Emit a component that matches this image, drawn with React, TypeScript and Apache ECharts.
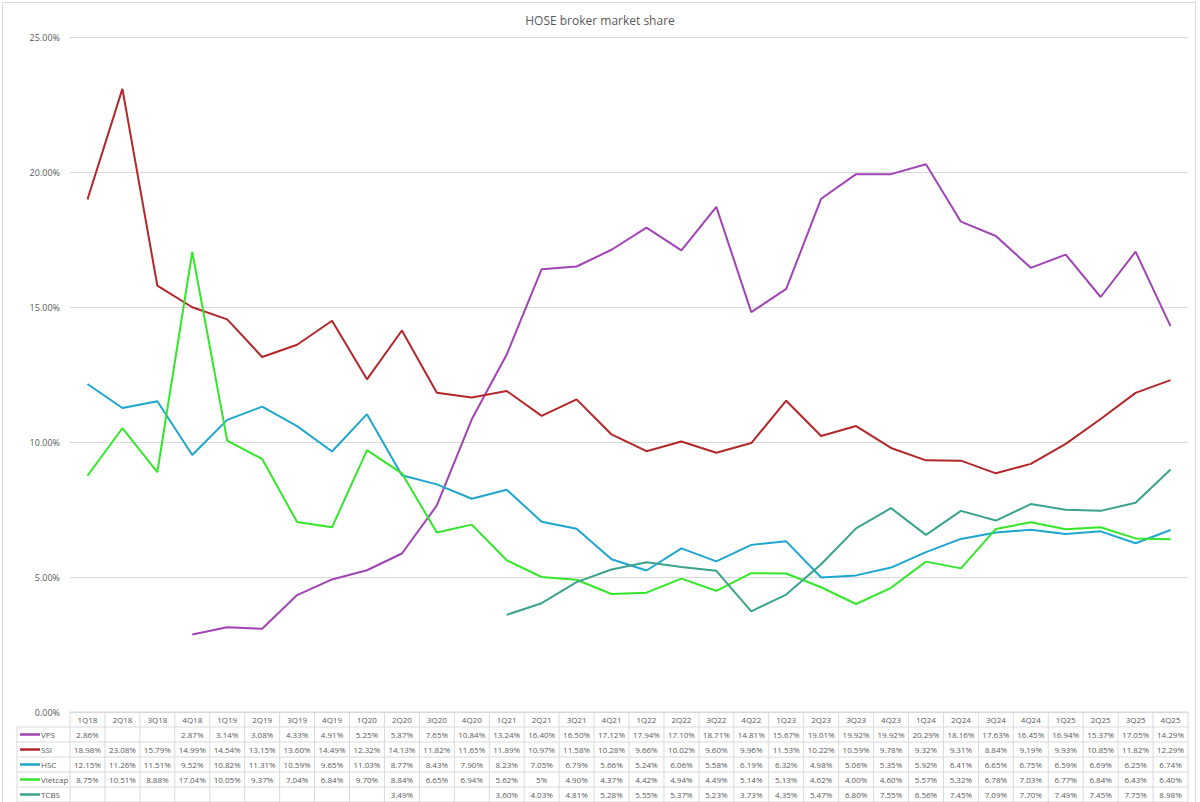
import React, { useEffect, useRef } from "react";
import * as echarts from "echarts";

const categories = ["1Q18","2Q18","3Q18","4Q18","1Q19","2Q19","3Q19","4Q19","1Q20","2Q20","3Q20","4Q20","1Q21","2Q21","3Q21","4Q21","1Q22","2Q22","3Q22","4Q22","1Q23","2Q23","3Q23","4Q23","1Q24","2Q24","3Q24","4Q24","1Q25","2Q25","3Q25","4Q25"];

// values in percent, kept as they are written in the table
const vps = ["2.86",null,null,"2.87","3.14","3.08","4.33","4.91","5.25","5.87","7.65","10.84","13.24","16.40","16.50","17.12","17.94","17.10","18.71","14.81","15.67","19.01","19.92","19.92","20.29","18.16","17.63","16.45","16.94","15.37","17.05","14.29"];
const ssi = ["18.98","23.08","15.79","14.99","14.54","13.15","13.60","14.49","12.32","14.13","11.82","11.65","11.89","10.97","11.58","10.28","9.66","10.02","9.60","9.96","11.53","10.22","10.59","9.78","9.32","9.31","8.84","9.19","9.93","10.85","11.82","12.29"];
const hsc = ["12.15","11.26","11.51","9.52","10.82","11.31","10.59","9.65","11.03","8.77","8.43","7.90","8.23","7.05","6.79","5.66","5.24","6.06","5.58","6.19","6.32","4.98","5.06","5.35","5.92","6.41","6.65","6.75","6.59","6.69","6.25","6.74"];
const vietcap = ["8.75","10.51","8.88","17.04","10.05","9.37","7.04","6.84","9.70","8.84","6.65","6.94","5.62","5","4.90","4.37","4.42","4.94","4.49","5.14","5.13","4.62","4.00","4.60","5.57","5.32","6.78","7.03","6.77","6.84","6.43","6.40"];
const tcbs = [null,null,null,null,null,null,null,null,null,"3.49",null,null,"3.60","4.03","4.81","5.28","5.55","5.37","5.23","3.73","4.35","5.47","6.80","7.55","6.56","7.45","7.09","7.70","7.49","7.45","7.75","8.98"];

const seriesNames = ["VPS","SSI","HSC","Vietcap","TCBS"];
const seriesData = [vps, ssi, hsc, vietcap, tcbs];
const colors = ["#a044b4","#b3262a","#1ea6cf","#33e62a","#3aa38c"];

const yTicks = { min: 0, max: 25, interval: 5 };

const W = 1200, H = 802;
const GL = 70, GR = 1188, GT = 37, GB = 712;
const FONT = "'Open Sans', 'Noto Sans', sans-serif";
const TXT = "#595959";
const BORDER = "#d9d9d9";

function fmt(v: string | null) {
  if (v === null || v === undefined) return "";
  return v + "%";
}

function buildTable() {
  const els: any[] = [];
  const n = categories.length;
  const cw = (GR - GL) / n;
  const rowH = 15;
  const top = GB;
  const rows = seriesNames.length + 1;
  const tableLeft = 17;
  for (let r = 0; r <= rows; r++) {
    const y = top + r * rowH;
    els.push({ type: "line", silent: true, shape: { x1: r === 0 ? GL : tableLeft, y1: y, x2: GR, y2: y }, style: { stroke: BORDER, lineWidth: 1 } });
  }
  els.push({ type: "line", silent: true, shape: { x1: tableLeft, y1: top + rowH, x2: tableLeft, y2: top + rows * rowH }, style: { stroke: BORDER, lineWidth: 1 } });
  for (let c = 0; c <= n; c++) {
    const x = GL + c * cw;
    els.push({ type: "line", silent: true, shape: { x1: x, y1: top, x2: x, y2: top + rows * rowH }, style: { stroke: BORDER, lineWidth: 1 } });
  }
  categories.forEach((cat, i) => {
    els.push({ type: "text", silent: true, x: GL + (i + 0.5) * cw, y: top + rowH / 2, style: { text: cat, font: `8px ${FONT}`, fill: TXT, align: "center", verticalAlign: "middle", textAlign: "center", textVerticalAlign: "middle" } });
  });
  seriesNames.forEach((name, r) => {
    const yc = top + (r + 1.5) * rowH;
    els.push({ type: "line", silent: true, shape: { x1: tableLeft + 3, y1: yc, x2: tableLeft + 23, y2: yc }, style: { stroke: colors[r], lineWidth: 2.5 } });
    els.push({ type: "text", silent: true, x: tableLeft + 24, y: yc, style: { text: name, font: `8px ${FONT}`, fill: TXT, align: "left", verticalAlign: "middle", textAlign: "left", textVerticalAlign: "middle" } });
    seriesData[r].forEach((v, i) => {
      const t = fmt(v);
      if (!t) return;
      els.push({ type: "text", silent: true, x: GL + (i + 0.5) * cw, y: yc, style: { text: t, font: `8px ${FONT}`, fill: TXT, align: "center", verticalAlign: "middle", textAlign: "center", textVerticalAlign: "middle" } });
    });
  });
  els.push({ type: "rect", silent: true, shape: { x: 2.5, y: 2.5, width: 1193, height: 810 }, style: { fill: "none", stroke: BORDER, lineWidth: 1 } });
  return els;
}

export default function App() {
  const ref = useRef<HTMLDivElement>(null);
  useEffect(() => {
    if (!ref.current) return;
    const chart = echarts.init(ref.current, undefined, { renderer: "svg" });
    chart.setOption({
      animation: false,
      backgroundColor: "#ffffff",
      title: {
        text: "HOSE broker market share",
        left: "center",
        top: 9,
        textStyle: { fontFamily: FONT, fontSize: 12, fontWeight: "normal", color: TXT },
      },
      grid: { left: GL, right: W - GR, top: GT, bottom: H - GB, containLabel: false },
      xAxis: {
        type: "category",
        data: categories,
        boundaryGap: true,
        axisLine: { show: false },
        axisTick: { show: false },
        axisLabel: { show: false },
      },
      yAxis: {
        type: "value",
        min: yTicks.min,
        max: yTicks.max,
        interval: yTicks.interval,
        axisLine: { show: false },
        axisTick: { show: false },
        splitLine: { lineStyle: { color: BORDER, width: 1 } },
        axisLabel: {
          formatter: (v: number) => v.toFixed(2) + "%",
          fontFamily: FONT,
          fontSize: 9,
          color: TXT,
          margin: 10,
        },
      },
      series: seriesNames.map((name, i) => ({
        name,
        type: "line",
        data: seriesData[i].map((v) => (v === null ? null : Number(v))),
        symbol: "none",
        showSymbol: false,
        connectNulls: false,
        lineStyle: { color: colors[i], width: 2 },
        itemStyle: { color: colors[i] },
      })),
      graphic: buildTable(),
    });
    return () => chart.dispose();
  }, []);
  return <div ref={ref} style={{ position: "fixed", left: 0, top: 0, width: W, height: H }} />;
}
